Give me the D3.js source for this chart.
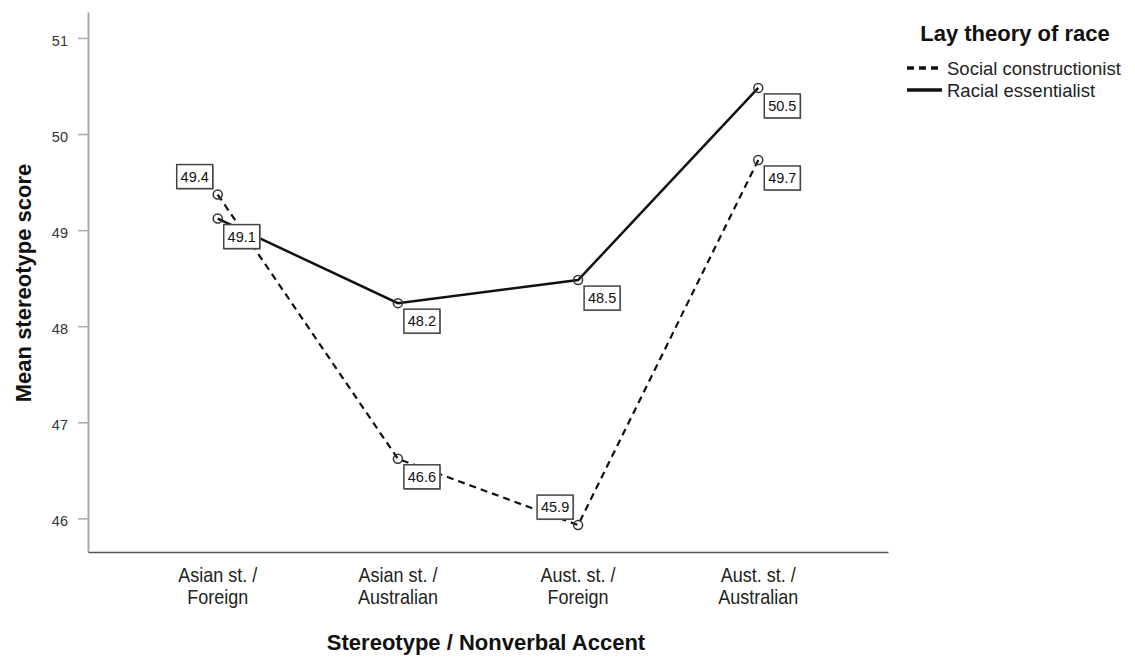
<!DOCTYPE html>
<html>
<head>
<meta charset="utf-8">
<script src="https://cdn.jsdelivr.net/npm/d3@7"></script>
<style>
  html, body { margin: 0; padding: 0; background: #fff; }
  svg { display: block; font-family: Arial, "Liberation Sans", sans-serif; }
</style>
</head>
<body>
<svg id="chart" width="1135" height="657"></svg>
<script>
// ---- data ----
const categories = ["Asian st. / Foreign", "Asian st. / Australian", "Aust. st. / Foreign", "Aust. st. / Australian"];
const categoryLines = [["Asian st. /", "Foreign"], ["Asian st. /", "Australian"], ["Aust. st. /", "Foreign"], ["Aust. st. /", "Australian"]];
const seriesNames = ["Social constructionist", "Racial essentialist"];
const socialValues = [49.37, 46.62, 45.93, 49.73];
const racialValues = [49.12, 48.24, 48.48, 50.48];
const socialLabelAbove = [true, false, true, false];
const racialLabelAbove = [false, false, false, false];
const yTicks = [46, 47, 48, 49, 50, 51];
const yDomain = [45.65, 51.27];

(function () {
const svg = d3.select("#chart");
const pLeft = 88, pRight = 888, pTop = 12, pBottom = 552;

const x = d3.scalePoint().domain(categories).range([pLeft, pRight]).padding(0.72);
const y = d3.scaleLinear().domain(yDomain).range([pBottom, pTop]);

// y axis
const yAxis = svg.append("g").attr("transform", `translate(${pLeft},0)`)
  .call(d3.axisLeft(y).tickValues(yTicks).tickFormat(d3.format("d")).tickSize(10).tickSizeOuter(0).tickPadding(10));
yAxis.select(".domain").attr("stroke", "#aaa").attr("stroke-width", 2);
yAxis.selectAll(".tick line").attr("stroke", "#aaa").attr("stroke-width", 1.5);
yAxis.selectAll(".tick text").attr("font-size", 14.5).attr("fill", "#333")
  .attr("font-family", "Arial, 'Liberation Sans', sans-serif").attr("dy", "0.5em");

// x axis
const xAxis = svg.append("g").attr("transform", `translate(0,${pBottom})`)
  .call(d3.axisBottom(x).tickSize(0).tickSizeOuter(0).tickFormat(() => ""));
xAxis.select(".domain").attr("stroke", "#555").attr("stroke-width", 1.5);
xAxis.selectAll(".tick text").remove();
categories.forEach((c, i) => {
  const g = svg.append("g").attr("transform", `translate(${x(c)},0) scale(0.9,1)`);
  categoryLines[i].forEach((t, j) => {
    g.append("text").attr("x", 0).attr("y", 582 + j * 22)
      .attr("text-anchor", "middle").attr("font-size", 20).attr("fill", "#222").text(t);
  });
});

// axis titles
svg.append("text").attr("x", 486).attr("y", 650).attr("text-anchor", "middle")
  .attr("font-size", 22).attr("font-weight", "bold").attr("fill", "#111")
  .text("Stereotype / Nonverbal Accent");
svg.append("text").attr("transform", "translate(31,283) rotate(-90)").attr("text-anchor", "middle")
  .attr("font-size", 22).attr("font-weight", "bold").attr("fill", "#111")
  .text("Mean stereotype score");

// lines
const line = d3.line().x((d, i) => x(categories[i])).y(d => y(d));
svg.append("path").datum(socialValues).attr("d", line).attr("fill", "none")
  .attr("stroke", "#111").attr("stroke-width", 2.2).attr("stroke-dasharray", "7,5");
svg.append("path").datum(racialValues).attr("d", line).attr("fill", "none")
  .attr("stroke", "#111").attr("stroke-width", 2.5);

// markers
[socialValues, racialValues].forEach(vals => {
  svg.append("g").selectAll("circle").data(vals).join("circle")
    .attr("cx", (d, i) => x(categories[i])).attr("cy", d => y(d)).attr("r", 4.5)
    .attr("fill", "none").attr("stroke", "#333").attr("stroke-width", 1.5);
});

// value labels
const fmt = d3.format(".1f");
function labels(vals, above) {
  const g = svg.append("g");
  vals.forEach((v, i) => {
    const px = x(categories[i]), py = y(v);
    const w = 36, h = 24;
    const bx = above[i] ? px - 5 - w : px + 6;
    const by = above[i] ? py - 6 - h : py + 6;
    g.append("rect").attr("x", bx + 1).attr("y", by + 1).attr("width", w).attr("height", h)
      .attr("fill", "#999");
    g.append("rect").attr("x", bx).attr("y", by).attr("width", w).attr("height", h)
      .attr("fill", "#fff").attr("stroke", "#444").attr("stroke-width", 1.5);
    g.append("text").attr("x", bx + w / 2).attr("y", by + h / 2).attr("dy", "0.36em")
      .attr("text-anchor", "middle").attr("font-size", 14.5).attr("fill", "#111").text(fmt(v));
  });
}
labels(socialValues, socialLabelAbove);
labels(racialValues, racialLabelAbove);

// legend
const legend = svg.append("g");
legend.append("text").attr("x", 1015).attr("y", 41).attr("text-anchor", "middle")
  .attr("font-size", 22).attr("font-weight", "bold").attr("fill", "#111").text("Lay theory of race");
seriesNames.forEach((s, i) => {
  const ly = 68 + i * 22;
  legend.append("line").attr("x1", 907).attr("x2", 942).attr("y1", ly).attr("y2", ly)
    .attr("stroke", "#111").attr("stroke-width", 3.5)
    .attr("stroke-dasharray", i === 0 ? "7,5" : null);
  legend.append("text").attr("x", 947).attr("y", ly + 7).attr("font-size", 18.5).attr("fill", "#222").text(s);
});
})();
</script>
</body>
</html>
